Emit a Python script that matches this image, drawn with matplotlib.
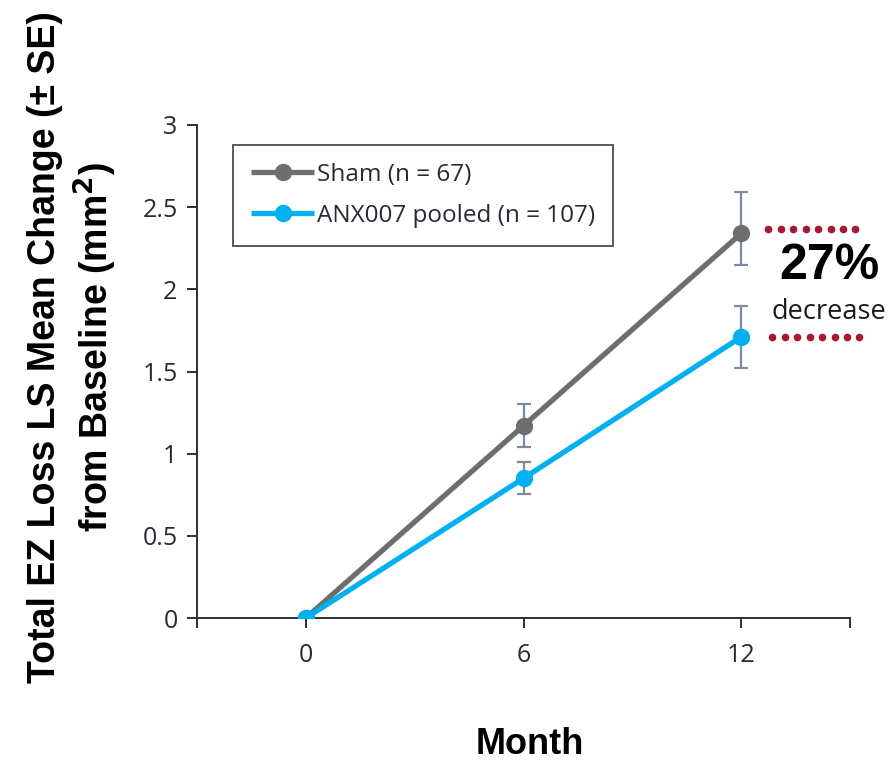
import matplotlib
matplotlib.use("Agg")
from matplotlib import pyplot as plt
import numpy as np

months = [0, 6, 12]
sham_mean = [0.0, 1.17, 2.34]
sham_lo = [0.0, 1.04, 2.15]
sham_hi = [0.0, 1.30, 2.59]
anx_mean = [0.0, 0.85, 1.71]
anx_lo = [0.0, 0.755, 1.52]
anx_hi = [0.0, 0.95, 1.90]
sham_label = "Sham (n = 67)"
anx_label = "ANX007 pooled (n = 107)"
pct_text = "27%"

SHAM_C = "#6d6f6f"
ANX_C = "#00b0f0"
ERR_C = "#7b8ba3"
DOT_C = "#a6192e"
TXT_C = "#262b33"
BODY_FONT = ["Open Sans", "DejaVu Sans"]
BOLD_FONT = ["Liberation Sans", "DejaVu Sans"]

fig = plt.figure(figsize=(8.91, 7.65), dpi=100)
ax = fig.add_axes([197 / 891, 1 - 618 / 765, 653 / 891, 493 / 765])


def draw_series(mean, lo, hi, color, label, z):
    mean = np.array(mean)
    yerr = [mean - np.array(lo), np.array(hi) - mean]
    ax.errorbar(months[1:], mean[1:], yerr=[yerr[0][1:], yerr[1][1:]], fmt="none",
                ecolor=ERR_C, elinewidth=1.6, capsize=5, capthick=1.6, zorder=z)
    ax.plot(months, mean, color=color, lw=3.8, marker="o", ms=11.5,
            label=label, zorder=z + 1, solid_capstyle="butt")


draw_series(sham_mean, sham_lo, sham_hi, SHAM_C, sham_label, 3)
draw_series(anx_mean, anx_lo, anx_hi, ANX_C, anx_label, 5)

ax.set_xlim(-3, 15)
ax.set_ylim(0, 3)
ax.set_xticks(months)
ax.set_xticks([-3, 15], minor=True)
ax.set_yticks([0, 0.5, 1, 1.5, 2, 2.5, 3])
ax.set_yticklabels(["0", "0.5", "1", "1.5", "2", "2.5", "3"])
for s in ["top", "right"]:
    ax.spines[s].set_visible(False)
for s in ["left", "bottom"]:
    ax.spines[s].set_color("#2b2f36")
    ax.spines[s].set_linewidth(1.4)
ax.tick_params(axis="both", which="both", color="#2b2f36", width=1.4, length=7,
               labelcolor=TXT_C, labelsize=18)
ax.tick_params(axis="x", pad=11)
ax.tick_params(axis="y", pad=7)
for lab in ax.get_xticklabels() + ax.get_yticklabels():
    lab.set_family(BODY_FONT)

leg = ax.legend(loc="upper left", bbox_to_anchor=(0.055, 0.96), frameon=True,
                fancybox=False, handlelength=2.6, handletextpad=0.1,
                borderpad=0.75, labelspacing=0.7, borderaxespad=0,
                prop={"family": BODY_FONT, "size": 17.5})
leg.get_frame().set_edgecolor("#2b2f36")
leg.get_frame().set_linewidth(1.4)
for t in leg.get_texts():
    t.set_color(TXT_C)

# annotation on the right
dot_x = np.linspace(12.75, 15.15, 8)
ax.plot(dot_x, [2.37] * 8, ls="none", marker="o", ms=4.5, color=DOT_C, clip_on=False)
ax.plot(dot_x + 0.11, [1.71] * 8, ls="none", marker="o", ms=4.5, color=DOT_C, clip_on=False)
fig.text(829 / 891, 1 - 266 / 765, pct_text, ha="center", va="center",
         fontsize=36, fontweight="bold", family=BOLD_FONT, color="black")
fig.text(829 / 891, 1 - 312 / 765, "decrease", ha="center", va="center",
         fontsize=19.5, family=BODY_FONT, color="#1a1a1a")

fig.text(45 / 891, 1 - 347 / 765, "Total EZ Loss LS Mean Change (\u00b1 SE)",
         rotation=90, ha="center", va="center", fontsize=27, fontweight="bold",
         family=BOLD_FONT, color="black")
fig.text(95 / 891, 1 - 347 / 765, "from Baseline (mm$^\\mathbf{2}$)",
         rotation=90, ha="center", va="center", fontsize=27, fontweight="bold",
         family=BOLD_FONT, color="black")
fig.text(530 / 891, 1 - 745 / 765, "Month", ha="center", va="center",
         fontsize=26, fontweight="bold", family=BOLD_FONT, color="black")

fig.savefig("out.png", dpi=100)
